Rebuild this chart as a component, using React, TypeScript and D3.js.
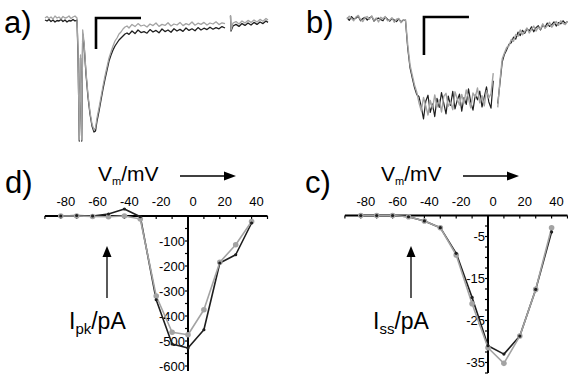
import * as d3 from "d3";

// ---- I-V data (mV, pA) ----
const voltages = [-80, -70, -60, -50, -40, -30, -20, -10, 0, 10, 20, 30, 40];
const ipkGray = [0, 0, -2, -3, 0, -12, -320, -465, -475, -375, -185, -115, -22];
const ipkDark = [0, 2, 0, 8, 28, -3, -335, -512, -528, -455, -188, -155, -28];
const issGray = [0, 0, 0, -0.3, -1.3, -2.9, -9.4, -21.0, -31.5, -35.2, -28.7, -17.6, -2.9];
const issDark = [0, 0, 0, -0.3, -1.3, -2.9, -9.0, -19.5, -31.0, -33.0, -28.7, -17.6, -3.9];

const vTicks = [-80, -60, -40, -20, 0, 20, 40];
const ipkTicks = [-100, -200, -300, -400, -500, -600];
const issTicks = [-5, -15, -25, -35];

// ---- current traces ----
// a) peak current, [ms, pA]
const traceAGray: [number, number][] = [
  [0, 10], [0.2, 17.5], [0.4, 7.5], [0.6, 15], [0.8, 5], [1, 20], [1.2, 10], [1.4, 15], [1.6, 5], [1.8, 17.5], [2, 10], [2.2, 12.5], [2.4, 20], [2.6, 7.5], [2.8, 15], [3, 20], [3.2, 10],
  [3.3, -150], [3.43, -600], [3.55, -175], [3.67, -600], [3.77, -50], [3.9, -110], [4.1, -260], [4.3, -375], [4.5, -460], [4.7, -520], [4.9, -550], [5.05, -540], [5.2, -490], [5.4, -440], [5.6, -385], [5.8, -330], [6, -280], [6.2, -235], [6.4, -190], [6.6, -160], [6.8, -130], [7, -105], [7.2, -90], [7.4, -70], [7.6, -60], [7.8, -45], [8, -35], [8.2, -30],
  [8.4, -40], [8.7, -22], [9, -33], [9.3, -18], [9.6, -30], [9.9, -25], [10.2, -35], [10.5, -20], [10.8, -28], [11.1, -15], [11.4, -32], [11.7, -22], [12, -27], [12.3, -14], [12.6, -30], [12.9, -20], [13.2, -25], [13.5, -12], [13.8, -28], [14.1, -18], [14.4, -24], [14.7, -10], [15, -26], [15.3, -16], [15.6, -22], [15.9, -12], [16.2, -25], [16.5, -15], [16.8, -20], [17.1, -9], [17.4, -23], [17.7, -14], [18, -18],
  [18.2, NaN], [18.55, 25], [18.6, -50], [18.8, -15], [19.1, -8], [19.4, -20], [19.7, -5], [20, -15], [20.3, -2], [20.6, -12], [20.9, 0], [21.2, -10], [21.5, 3], [21.8, -6], [22.1, 8], [22.3, 0],
];
const traceADark: [number, number][] = [
  [0, 0], [0.2, -5], [0.4, 2.5], [0.6, -7.5], [0.8, 0], [1, -10], [1.2, -2.5], [1.4, -5], [1.6, 2.5], [1.8, -7.5], [2, 0], [2.2, -10], [2.4, -2.5], [2.6, -5], [2.8, 2.5], [3, -5], [3.2, 0],
  [3.3, -170], [3.43, -605], [3.55, -190], [3.67, -605], [3.77, -70], [3.9, -120], [4.1, -270], [4.3, -385], [4.5, -470], [4.7, -530], [4.9, -560], [5.05, -555], [5.2, -505], [5.4, -455], [5.6, -400], [5.8, -345], [6, -295], [6.2, -250], [6.4, -205], [6.6, -175], [6.8, -150], [7, -130], [7.2, -115], [7.4, -100], [7.6, -90], [7.8, -80], [8, -70], [8.2, -65],
  [8.4, -72], [8.7, -55], [9, -68], [9.3, -50], [9.6, -63], [9.9, -58], [10.2, -66], [10.5, -48], [10.8, -60], [11.1, -52], [11.4, -64], [11.7, -45], [12, -58], [12.3, -50], [12.6, -61], [12.9, -44], [13.2, -55], [13.5, -47], [13.8, -57], [14.1, -40], [14.4, -52], [14.7, -44], [15, -54], [15.3, -38], [15.6, -50], [15.9, -41], [16.2, -48], [16.5, -36], [16.8, -46], [17.1, -38], [17.4, -44], [17.7, -33], [18, -40],
  [18.2, NaN], [18.55, 20], [18.6, -55], [18.8, -30], [19.1, -22], [19.4, -32], [19.7, -18], [20, -27], [20.3, -15], [20.6, -25], [20.9, -12], [21.2, -22], [21.5, -10], [21.8, -18], [22.1, -5], [22.3, -12],
];

// b) steady state current, one sample per ms (pA)
const traceBGray = [
  0.3, 1.0, 0.4, -0.2, 0.8, 1.2, 0.1, -0.4, 0.6, 0.9, 0.2, 1.1, -0.1, 0.5, -0.5, 0.7, 0.3, 0.9, -0.2, 0.0, 0.6, -0.6, 0.2, 0.4, -0.7, -0.1, 0.1,
  -6.6, -11.8, -14.5, -17.1, -19.0,
  -21.8, -23.9, -20.4, -22.6, -25.0, -21.2, -23.3, -19.7, -22.9, -21.0, -24.2, -20.1, -19.3, -22.7, -21.5, -23.6, -18.9, -20.8, -22.4, -19.6, -21.9, -18.4, -20.7, -23.1, -19.2, -20.3, -17.9, -21.8, -19.9, -22.6, -18.6, -20.5, -19.4,
  -14.0, NaN,
  -23.0, -15.8, -10.2, -8.6, -7.2, -6.8, -5.1, -5.6, -3.8, -4.3, -2.6, -3.9, -3.0, -2.1, -3.4, -2.5, -1.6, -2.9, -1.9, -2.4, -1.0, -2.2, -1.5, -0.6, -1.9, -1.1, -0.4, -1.4, -0.2, -0.9, -1.2, -0.3,
];
const traceBDark = [
  0.6, -0.1, 0.9, 0.2, 0.5, 1.0, -0.2, 0.4, 0.7, 0.0, 0.6, 0.9, -0.3, 0.3, 0.5, 0.1, -0.2, 0.8, 0.2, -0.3, 0.4, 0.0, -0.4, 0.3, -0.5, 0.0, -0.2,
  -7.5, -12.5, -15.2, -17.8, -19.6,
  -20.2, -22.8, -26.0, -21.4, -19.8, -24.3, -22.1, -25.4, -20.6, -23.0, -19.1, -21.9, -24.7, -20.0, -22.5, -18.8, -23.4, -21.1, -19.5, -24.0, -20.4, -22.2, -18.1, -21.6, -23.7, -19.7, -21.0, -18.7, -22.9, -20.3, -17.6, -21.5, -23.2,
  -16.0, NaN,
  -22.0, -16.5, -11.0, -9.0, -7.8, -6.4, -6.0, -4.5, -5.0, -3.2, -4.1, -2.7, -3.5, -2.3, -2.9, -1.8, -3.1, -2.0, -1.5, -2.6, -1.3, -1.9, -0.8, -1.7, -1.2, -0.5, -1.6, -0.7, -1.0, -0.2, -0.9, -0.4,
];

// scale bars: [corner ms, corner pA, length ms, length pA]
const barA = [5.1, 10, 4.5, 155];
const barB = [34.2, 0.8, 20, 10];

const DARK = "#1e1e1e";
const GRAY = "#a3a3a3";
const FONT = "'Liberation Sans', Arial, sans-serif";

// trace scales
const xA = d3.scaleLinear().domain([0, 22.3]).range([45, 268]);
const yA = d3.scaleLinear().domain([0, -600]).range([20, 140]);
const xB = d3.scaleLinear().domain([0, 98]).range([347, 567.5]);
const yB = d3.scaleLinear().domain([0, -20]).range([20, 96]);

// I-V scales
const xD = d3.scaleLinear().domain([-90, 50]).range([44.9, 267.5]);
const yD = d3.scaleLinear().domain([0, -600]).range([216, 366]);
const xC = d3.scaleLinear().domain([-90, 50]).range([344.9, 567.5]);
const yC = d3.scaleLinear().domain([0, -35]).range([215.5, 362.5]);

function Trace({ d, stroke, w }: { d: string | null; stroke: string; w: number }) {
  return <path d={d ?? ""} fill="none" stroke={stroke} strokeWidth={w} strokeLinejoin="round" />;
}

function ScaleBar({ bar, x, y }: { bar: number[]; x: d3.ScaleLinear<number, number>; y: d3.ScaleLinear<number, number> }) {
  const [t0, i0, dt, di] = bar;
  return (
    <path
      d={`M${x(t0 + dt)},${y(i0)}H${x(t0)}V${y(i0 - di)}`}
      fill="none"
      stroke="#000"
      strokeWidth={2.6}
    />
  );
}

function IVPanel(props: {
  x: d3.ScaleLinear<number, number>;
  y: d3.ScaleLinear<number, number>;
  gray: number[];
  dark: number[];
  yTicks: number[];
  minorStep: number;
  yMin: number;
  label: string;
  labelX: number;
  titleX: number;
  sub: string;
  arrowX: number;
}) {
  const { x, y, gray, dark, yTicks, minorStep, yMin, titleX } = props;
  const y0 = y(0);
  const x0 = x(0);
  const line = d3
    .line<number>()
    .x((_d, i) => x(voltages[i]))
    .y((d) => y(d));
  const minorV = d3.range(-90, 51, 10);
  const minorI = d3.range(0, yMin - 0.001, -minorStep).slice(1);
  const [xs, xe] = x.range();
  return (
    <g fontFamily={FONT}>
      <text x={props.labelX} y={193} fontSize={31}>{props.label}</text>
      <text x={titleX} y={181} fontSize={21}>
        V<tspan fontSize={11} dy={4}>m</tspan>
        <tspan dy={-4}>/mV</tspan>
      </text>
      <line x1={titleX + 82} x2={titleX + 132} y1={176} y2={176} stroke="#000" strokeWidth={1.3} />
      <path d={`M${titleX + 138},176l-12,-4.5v9z`} fill="#000" />

      {/* axes */}
      <line x1={xs} x2={xe} y1={y0} y2={y0} stroke="#000" strokeWidth={2} />
      <line x1={x0} x2={x0} y1={y0} y2={y(yMin)} stroke="#000" strokeWidth={2} />
      {minorV.map((v) => (
        <line key={v} x1={x(v)} x2={x(v)} y1={y0} y2={y0 + 3} stroke="#000" strokeWidth={1.2} />
      ))}
      {vTicks.map((v) => (
        <text key={v} x={x(v) + 5} y={y0 - 10} fontSize={13} textAnchor="middle">
          {v}
        </text>
      ))}
      {minorI.map((v) => (
        <line key={v} x1={x0 - 3} x2={x0} y1={y(v)} y2={y(v)} stroke="#000" strokeWidth={1.2} />
      ))}
      {yTicks.map((v) => (
        <text key={v} x={x0 - 3} y={y(v)} dy="0.35em" fontSize={13} textAnchor="end">
          {v}
        </text>
      ))}

      {/* y label with arrow */}
      <line x1={props.arrowX} x2={props.arrowX} y1={298} y2={252} stroke="#000" strokeWidth={1.3} />
      <path d={`M${props.arrowX},246l-4.5,11h9z`} fill="#000" />
      <text x={props.arrowX - 38} y={329} fontSize={23}>
        I<tspan fontSize={15} dy={5}>{props.sub}</tspan>
        <tspan dy={-5}>/pA</tspan>
      </text>

      {/* data */}
      <Trace d={line(dark)} stroke={DARK} w={1.6} />
      <Trace d={line(gray)} stroke={GRAY} w={1.6} />
      {gray.map((d, i) => (
        <circle key={"g" + i} cx={x(voltages[i])} cy={y(d)} r={2.8} fill={GRAY} />
      ))}
      {dark.map((d, i) => (
        <circle key={"k" + i} cx={x(voltages[i])} cy={y(d)} r={1.6} fill={DARK} />
      ))}
    </g>
  );
}

export default function App() {
  const lineA = d3
    .line<[number, number]>()
    .defined((d) => !isNaN(d[1]))
    .x((d) => xA(d[0]))
    .y((d) => yA(d[1]));
  const lineB = d3
    .line<number>()
    .defined((d) => !isNaN(d))
    .x((_d, i) => xB(i))
    .y((d) => yB(d));

  return (
    <svg width={568} height={377} style={{ position: "absolute", left: 0, top: 0, background: "#fff" }}>
      <g fontFamily={FONT}>
        <text x={4} y={33} fontSize={31}>a)</text>
        <text x={306} y={33} fontSize={31}>b)</text>
      </g>
      <Trace d={lineA(traceADark)} stroke={DARK} w={1.3} />
      <Trace d={lineA(traceAGray)} stroke={GRAY} w={1.3} />
      <ScaleBar bar={barA} x={xA} y={yA} />

      <Trace d={lineB(traceBDark)} stroke={DARK} w={1.2} />
      <Trace d={lineB(traceBGray)} stroke={GRAY} w={1.4} />
      <ScaleBar bar={barB} x={xB} y={yB} />

      <IVPanel
        x={xD}
        y={yD}
        gray={ipkGray}
        dark={ipkDark}
        yTicks={ipkTicks}
        minorStep={50}
        yMin={-620}
        label="d)"
        labelX={5}
        titleX={98}
        sub="pk"
        arrowX={107}
      />
      <IVPanel
        x={xC}
        y={yC}
        gray={issGray}
        dark={issDark}
        yTicks={issTicks}
        minorStep={2.5}
        yMin={-37.5}
        label="c)"
        labelX={305}
        titleX={381}
        sub="ss"
        arrowX={411}
      />
    </svg>
  );
}
